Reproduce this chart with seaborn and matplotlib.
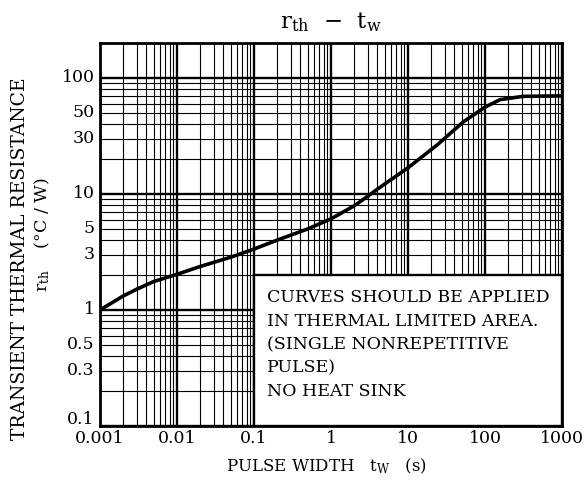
import matplotlib
matplotlib.use("Agg")
import matplotlib.pyplot as plt
from matplotlib.patches import Rectangle
from matplotlib.ticker import LogLocator, NullFormatter
import numpy as np
import seaborn as sns
import pandas as pd

# curve (pulse width in s, r_th in degC/W)
pulse_width = [0.001, 0.002, 0.003, 0.005, 0.01, 0.02, 0.05, 0.1, 0.2, 0.5,
               1, 2, 3, 4, 10, 24, 52, 100, 157, 314, 1000]
r_th = [1.0, 1.32, 1.51, 1.76, 2.03, 2.37, 2.85, 3.35, 4.0, 5.0,
        6.1, 7.9, 9.55, 11.0, 16.8, 26.5, 41.7, 56, 65, 69.4, 70]

x_ticks = [0.001, 0.01, 0.1, 1, 10, 100, 1000]
x_tick_labels = ["0.001", "0.01", "0.1", "1", "10", "100", "1000"]
y_ticks = [0.1, 0.3, 0.5, 1, 3, 5, 10, 30, 50, 100]
y_tick_labels = ["0.1", "0.3", "0.5", "1", "3", "5", "10", "30", "50", "100"]

note_lines = ["CURVES SHOULD BE APPLIED",
              "IN THERMAL LIMITED AREA.",
              "(SINGLE NONREPETITIVE",
              "PULSE)",
              "NO HEAT SINK"]

sns.set_style("white")
plt.rcParams['font.family'] = ['DejaVu Serif']
plt.rcParams['mathtext.fontset'] = 'dejavuserif'
plt.rcParams['text.color'] = 'black'

df = pd.DataFrame({"tw": pulse_width, "rth": r_th})

fig = plt.figure(figsize=(5.87, 4.88), dpi=100)
ax = fig.add_axes([100 / 587, 1 - 426 / 488, 462 / 587, 383 / 488])

ax.set_xscale("log")
ax.set_yscale("log")
ax.set_xlim(0.001, 1000)
ax.set_ylim(0.1, 200)

# grid: thick decades, thin 2..9
for axis in (ax.xaxis, ax.yaxis):
    axis.set_major_locator(LogLocator(base=10, numticks=20))
    axis.set_minor_locator(LogLocator(base=10, subs=np.arange(2, 10), numticks=20))
    axis.set_major_formatter(NullFormatter())
    axis.set_minor_formatter(NullFormatter())
ax.grid(which="major", color="black", lw=1.7)
ax.grid(which="minor", color="black", lw=0.8)
ax.set_axisbelow(True)
ax.tick_params(which="both", length=0)

# white note box in lower right
ax.add_patch(Rectangle((0.1, 0.1), 1000 - 0.1, 2 - 0.1, facecolor="white",
                       edgecolor="black", lw=1.7, zorder=1))

sns.lineplot(data=df, x="tw", y="rth", color="black", lw=2.6, ax=ax, zorder=3)

# tick labels (y labels sit on minor positions too)
for v, s in zip(x_ticks, x_tick_labels):
    ax.text(v, -0.01, s, transform=ax.get_xaxis_transform(), ha="center",
            va="top", fontsize=12.5)
for v, s in zip(y_ticks, y_tick_labels):
    if v == 0.1:
        ax.text(-0.012, -0.006, s, transform=ax.transAxes, ha="right",
                va="bottom", fontsize=12.5)
    else:
        ax.text(-0.012, v, s, transform=ax.get_yaxis_transform(), ha="right",
                va="center", fontsize=12.5)

ax.text(0.362, 0.357, "\n".join(note_lines), transform=ax.transAxes,
        ha="left", va="top", fontsize=12.5, linespacing=1.5)

ax.set_xlabel("")
ax.set_ylabel("")
for sp in ax.spines.values():
    sp.set_color("black")
    sp.set_linewidth(2)

fig.text(331 / 587, 1 - 22 / 488, r"r$_{\mathrm{th}}$  $-$  t$_{\mathrm{w}}$",
         ha="center", va="center", fontsize=16.5)
fig.text(326 / 587, 1 - 466 / 488,
         r"PULSE WIDTH   t$_{\mathrm{W}}$   (s)", ha="center", va="center",
         fontsize=12)
fig.text(20 / 587, 1 - 259 / 488, "TRANSIENT THERMAL RESISTANCE",
         rotation=90, ha="center", va="center", fontsize=13.5)
fig.text(42 / 587, 1 - 235 / 488, r"r$_{\mathrm{th}}$    (°C / W)",
         rotation=90, ha="center", va="center", fontsize=12.5)

fig.savefig("out.png", dpi=100)
